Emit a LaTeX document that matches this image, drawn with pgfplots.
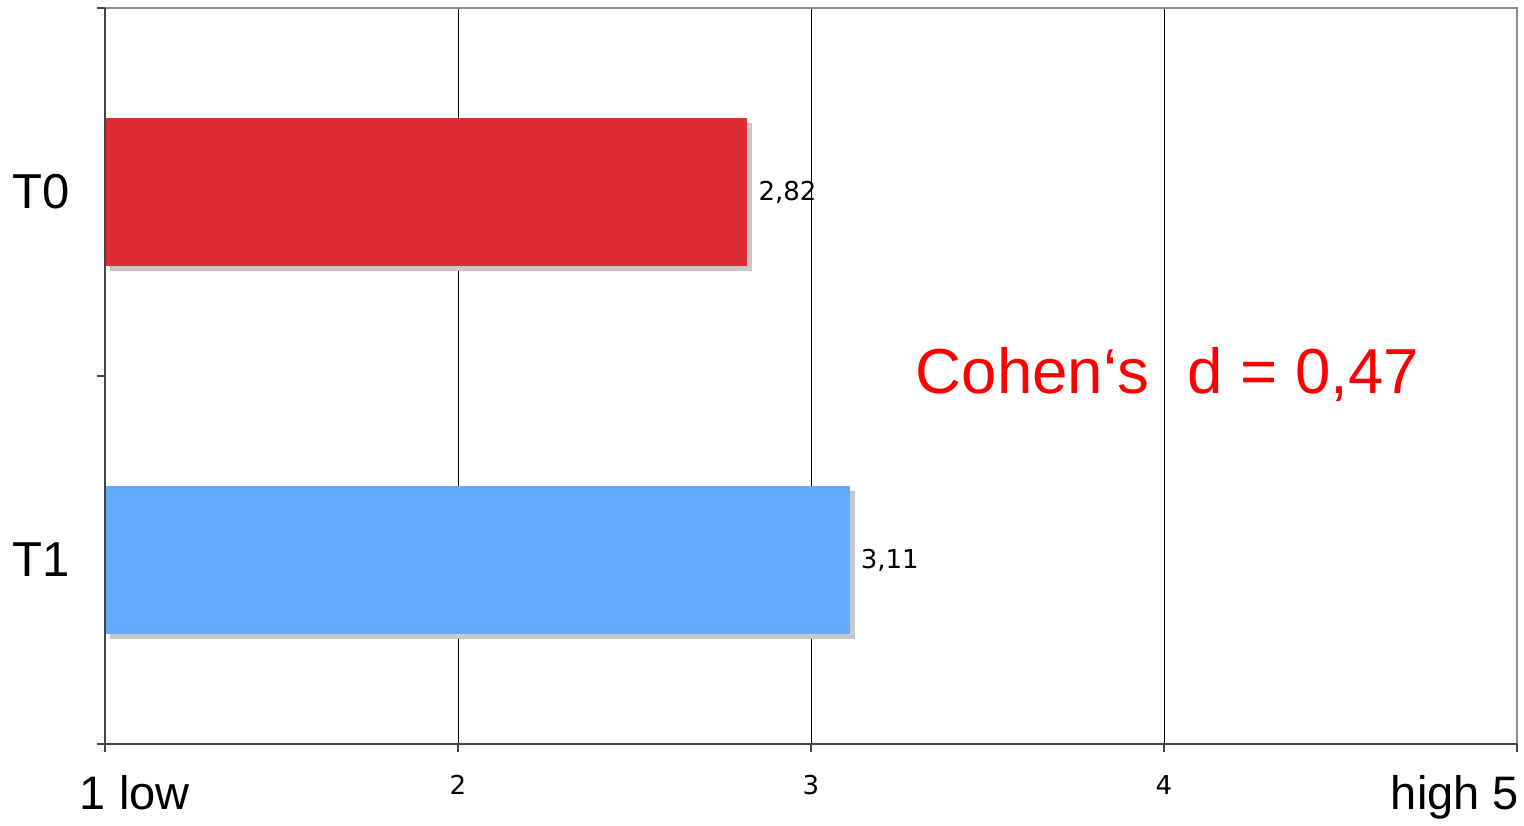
\documentclass[border=0pt]{standalone}
\usepackage{fontspec}
\setmainfont{Liberation Sans}
\newfontfamily\dejavu{DejaVu Sans}
\usepackage{pgfplots}
\pgfplotsset{compat=1.18}
\usetikzlibrary{shadows}

\definecolor{barred}{HTML}{DD2C34}
\definecolor{barblue}{HTML}{62AAFE}
\definecolor{axdark}{HTML}{444444}
\definecolor{axgray}{HTML}{8C8C8C}

\begin{document}
\begin{tikzpicture}
\begin{axis}[
    scale only axis,
    width=706pt, height=368pt,
    xbar, bar shift=0pt, bar width=0.4,
    xmin=1, xmax=5, ymin=0, ymax=2,
    y dir=reverse,
    xtick={1,2,3,4,5},
    xticklabels={
        {\makebox[0pt][l]{\hspace*{-12.5pt}\normalfont\fontsize{23.5}{23.5}\selectfont 1 low}},
        2, 3, 4,
        {\makebox[0pt][r]{\normalfont\fontsize{23.5}{23.5}\selectfont high 5\hspace*{-1pt}}}},
    xticklabel style={font=\dejavu\fontsize{13}{13}\selectfont, anchor=north, yshift=-8pt},
    ytick={0.5,1.5},
    yticklabels={T0,T1},
    yticklabel style={font=\normalfont\fontsize{24.5}{24.5}\selectfont, xshift=-10pt},
    minor ytick={0,1,2},
    every major y tick/.style={draw=none},
    tick align=outside,
    xtick pos=bottom, ytick pos=left,
    major tick length=4pt, minor tick length=4pt,
    tick style={axdark, line width=0.8pt},
    xmajorgrids, ymajorgrids=false,
    grid style={black, line width=0.5pt},
    axis line style={draw=none},
    clip=true,
    nodes near coords={\dejavu\fontsize{13}{13}\selectfont\pgfmathprintnumber[fixed, fixed zerofill, precision=2, use comma, assume math mode=true]{\pgfplotspointmeta}},
    point meta=explicit,
    every node near coord/.append style={anchor=west, black, xshift=2pt},
    after end axis/.code={
        \draw[axgray, line width=1.3pt] (rel axis cs:0,1) -- (rel axis cs:1,1) -- (rel axis cs:1,0);
        \draw[axdark, line width=1.2pt] (rel axis cs:0,1) -- (rel axis cs:0,0) -- (rel axis cs:1,0);
        \node[text=red, font=\normalfont\fontsize{31.8}{31.8}\selectfont] at (axis cs:4.01,0.995) {Cohen‘s\hspace{0.6em}d = 0,47};
        \path (rel axis cs:0,0) ++(-52.5pt,-36.5pt);
        \path (rel axis cs:1,1) ++(3.5pt,4pt);
    },
]
\addplot[fill=barred, draw=none, drop shadow={shadow xshift=2.5pt, shadow yshift=-2.5pt, fill=black!22, opacity=1}]
    coordinates {(2.82,0.5) [2.82]};
\addplot[fill=barblue, draw=none, drop shadow={shadow xshift=2.5pt, shadow yshift=-2.5pt, fill=black!22, opacity=1}]
    coordinates {(3.11,1.5) [3.11]};
\end{axis}
\end{tikzpicture}
\end{document}
